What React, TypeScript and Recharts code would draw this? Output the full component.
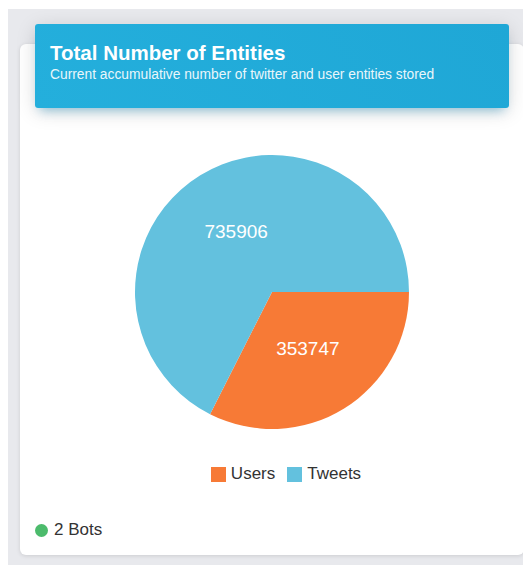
import { PieChart, Pie, Cell, Legend } from "recharts";

const categories = ["Users", "Tweets"];
const counts = [353747, 735906];
const colors = ["#F77A36", "#63C1DE"];

const data = categories.map((name, i) => ({ name, value: counts[i] }));

const RADIAN = Math.PI / 180;

// labels sit halfway along the radius, chart.js style
function renderLabel(props: any) {
  const { cx, cy, midAngle, outerRadius, value } = props;
  const r = outerRadius * 0.5;
  const x = cx + r * Math.cos(-midAngle * RADIAN);
  const y = cy + r * Math.sin(-midAngle * RADIAN) - 2;
  return (
    <text
      x={x}
      y={y}
      fill="#ffffff"
      textAnchor="middle"
      dominantBaseline="central"
      style={{ fontSize: 19, fontFamily: "Liberation Sans, Arial, sans-serif" }}
    >
      {value}
    </text>
  );
}

function LegendBox() {
  return (
    <div style={{ display: "flex", justifyContent: "center", alignItems: "center" }}>
      {categories.map((name, i) => (
        <div key={name} style={{ display: "flex", alignItems: "center", marginRight: 12 }}>
          <span
            style={{
              display: "inline-block",
              width: 15,
              height: 15,
              background: colors[i],
              marginRight: 5,
            }}
          />
          <span style={{ color: "#333", fontSize: 17 }}>{name}</span>
        </div>
      ))}
    </div>
  );
}

export default function App() {
  return (
    <div
      style={{
        position: "relative",
        width: 523,
        height: 557,
        background: "#e8e9ed",
        marginTop: 1,
        fontFamily: "Liberation Sans, Arial, sans-serif",
      }}
    >
      <div
        style={{
          position: "absolute",
          left: 12,
          top: 35,
          width: 504,
          height: 511,
          background: "#fff",
          borderRadius: 6,
          boxShadow: "0 1px 4px rgba(0,0,0,0.12)",
        }}
      >
        <div style={{ position: "absolute", left: 0, top: 0 }}>
          <PieChart width={504} height={470}>
            <Pie
              data={data}
              dataKey="value"
              nameKey="name"
              cx={247}
              cy={243}
              outerRadius={137}
              startAngle={0}
              endAngle={-360}
              stroke="none"
              labelLine={false}
              label={renderLabel}
              isAnimationActive={false}
            >
              {data.map((d, i) => (
                <Cell key={d.name} fill={colors[i]} />
              ))}
            </Pie>
            <Legend
              verticalAlign="bottom"
              content={() => <LegendBox />}
              wrapperStyle={{ top: 420, bottom: "auto", left: 25, width: 494 }}
            />
          </PieChart>
        </div>
        <div
          style={{
            position: "absolute",
            left: 15,
            top: 476,
            display: "flex",
            alignItems: "center",
            fontSize: 17,
            color: "#333",
          }}
        >
          <span
            style={{
              display: "inline-block",
              width: 13,
              height: 13,
              borderRadius: "50%",
              background: "#4cbb6c",
              marginRight: 6,
            }}
          />
          2 Bots
        </div>
      </div>
      <div
        style={{
          position: "absolute",
          left: 27,
          top: 15,
          width: 474,
          height: 84,
          borderRadius: 3,
          background: "linear-gradient(60deg, #24afdc, #1fa7d6)",
          boxShadow:
            "0 4px 20px 0 rgba(0,0,0,0.14), 0 7px 10px -5px rgba(0,140,200,0.4)",
          color: "#fff",
          boxSizing: "border-box",
          padding: "16px 15px",
        }}
      >
        <div style={{ fontSize: 20.5, fontWeight: "bold", lineHeight: "25px" }}>
          Total Number of Entities
        </div>
        <div style={{ fontSize: 13.8, lineHeight: "20px", opacity: 0.9 }}>
          Current accumulative number of twitter and user entities stored
        </div>
      </div>
    </div>
  );
}
